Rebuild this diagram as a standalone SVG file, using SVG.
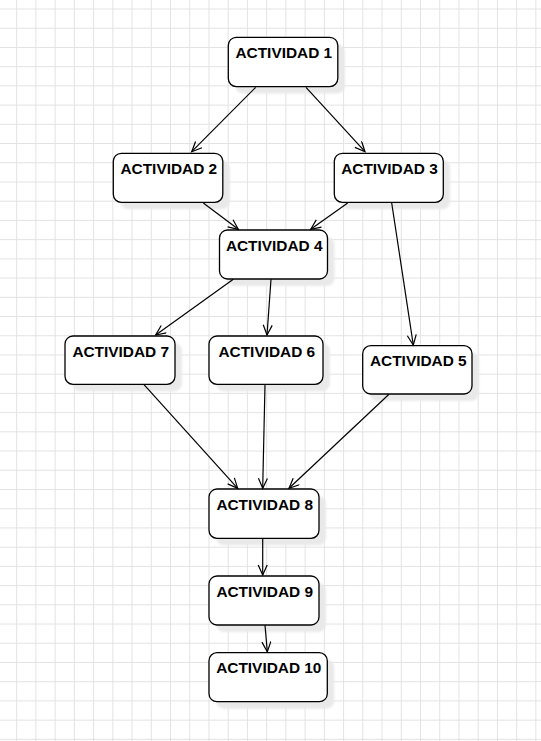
<svg xmlns="http://www.w3.org/2000/svg" width="541" height="741" viewBox="0 0 541 741">
<style>
.grid{stroke:#e3e3e3;stroke-width:1;fill:none}
.node rect.box{fill:#ffffff;stroke:#000000;stroke-width:1.3}
.node rect.sh{fill:#e9e9e9;filter:url(#blur)}
.node text{font-family:"Liberation Sans",Arial,sans-serif;font-weight:bold;font-size:15.4px;fill:#000000;text-anchor:middle}
.edges line{stroke:#000000;stroke-width:1.2;fill:none;marker-end:url(#open)}
</style>
<defs>
<filter id="blur" x="-10%" y="-10%" width="120%" height="120%"><feGaussianBlur stdDeviation="1.2"/></filter>
<marker id="open" markerUnits="userSpaceOnUse" markerWidth="14" markerHeight="12" refX="11" refY="5" orient="auto" viewBox="0 0 14 12">
<path d="M1,0.5 L11,5 L1,9.5" fill="none" stroke="#000000" stroke-width="1.2"/>
</marker>
</defs>
<rect width="541" height="741" fill="#ffffff"/>
<path class="grid" d="M16.67,0V741 M35.9,0V741 M55.13,0V741 M74.36,0V741 M93.59,0V741 M112.82,0V741 M132.05,0V741 M151.28,0V741 M170.51,0V741 M189.74,0V741 M208.97,0V741 M228.2,0V741 M247.43,0V741 M266.66,0V741 M285.89,0V741 M305.12,0V741 M324.35,0V741 M343.58,0V741 M362.81,0V741 M382.04,0V741 M401.27,0V741 M420.5,0V741 M439.73,0V741 M458.96,0V741 M478.19,0V741 M497.42,0V741 M516.65,0V741 M535.88,0V741 M0,9H541 M0,28.22H541 M0,47.44H541 M0,66.66H541 M0,85.88H541 M0,105.1H541 M0,124.32H541 M0,143.54H541 M0,162.76H541 M0,181.98H541 M0,201.2H541 M0,220.42H541 M0,239.64H541 M0,258.86H541 M0,278.08H541 M0,297.3H541 M0,316.52H541 M0,335.74H541 M0,354.96H541 M0,374.18H541 M0,393.4H541 M0,412.62H541 M0,431.84H541 M0,451.06H541 M0,470.28H541 M0,489.5H541 M0,508.72H541 M0,527.94H541 M0,547.16H541 M0,566.38H541 M0,585.6H541 M0,604.82H541 M0,624.04H541 M0,643.26H541 M0,662.48H541 M0,681.7H541 M0,700.92H541 M0,720.14H541 M0,739.36H541"/>
<g id="node1" class="node"><rect class="sh" x="235.3" y="44.3" width="109.5" height="49.3" rx="8"/><rect class="box" x="228.3" y="37.3" width="109.5" height="49.3" rx="8"/><text x="283.8" y="58">ACTIVIDAD 1</text></g>
<g id="node2" class="node"><rect class="sh" x="120.3" y="160.3" width="109.5" height="49" rx="8"/><rect class="box" x="113.3" y="153.3" width="109.5" height="49" rx="8"/><text x="168.8" y="174">ACTIVIDAD 2</text></g>
<g id="node3" class="node"><rect class="sh" x="341.3" y="160.3" width="109" height="49" rx="8"/><rect class="box" x="334.3" y="153.3" width="109" height="49" rx="8"/><text x="389.5" y="174">ACTIVIDAD 3</text></g>
<g id="node4" class="node"><rect class="sh" x="226.5" y="237" width="108" height="49" rx="8"/><rect class="box" x="219.5" y="230" width="108" height="49" rx="8"/><text x="274.2" y="250.7">ACTIVIDAD 4</text></g>
<g id="node7" class="node"><rect class="sh" x="72" y="343" width="110" height="48.3" rx="8"/><rect class="box" x="65" y="336" width="110" height="48.3" rx="8"/><text x="120.7" y="356.5">ACTIVIDAD 7</text></g>
<g id="node6" class="node"><rect class="sh" x="216" y="343" width="114" height="48.3" rx="8"/><rect class="box" x="209" y="336" width="114" height="48.3" rx="8"/><text x="266.8" y="356.5">ACTIVIDAD 6</text></g>
<g id="node5" class="node"><rect class="sh" x="369.7" y="352.7" width="109.3" height="48.3" rx="8"/><rect class="box" x="362.7" y="345.7" width="109.3" height="48.3" rx="8"/><text x="418.3" y="366">ACTIVIDAD 5</text></g>
<g id="node8" class="node"><rect class="sh" x="216" y="496" width="110" height="49.3" rx="8"/><rect class="box" x="209" y="489" width="110" height="49.3" rx="8"/><text x="264.7" y="509.5">ACTIVIDAD 8</text></g>
<g id="node9" class="node"><rect class="sh" x="216" y="583" width="110" height="49" rx="8"/><rect class="box" x="209" y="576" width="110" height="49" rx="8"/><text x="264.7" y="596.5">ACTIVIDAD 9</text></g>
<g id="node10" class="node"><rect class="sh" x="216" y="659.7" width="118.3" height="49" rx="8"/><rect class="box" x="209" y="652.7" width="118.3" height="49" rx="8"/><text x="268.8" y="673.3">ACTIVIDAD 10</text></g>
<g id="edges" class="edges">
<line x1="255.7" y1="87.3" x2="191.7" y2="151.7"/>
<line x1="306" y1="87.3" x2="365" y2="151.7"/>
<line x1="203.3" y1="203" x2="238.3" y2="229.3"/>
<line x1="347.7" y1="203" x2="310.7" y2="229.3"/>
<line x1="391.7" y1="203" x2="413.3" y2="345"/>
<line x1="233.3" y1="279.3" x2="155.7" y2="335"/>
<line x1="271" y1="279.3" x2="267" y2="335"/>
<line x1="144" y1="384.6" x2="237.7" y2="488.3"/>
<line x1="265" y1="384.6" x2="262.7" y2="488.3"/>
<line x1="389" y1="394.3" x2="289" y2="488.3"/>
<line x1="262.7" y1="538.6" x2="262.7" y2="575"/>
<line x1="265" y1="625.3" x2="267.3" y2="651.7"/>
</g>
</svg>
